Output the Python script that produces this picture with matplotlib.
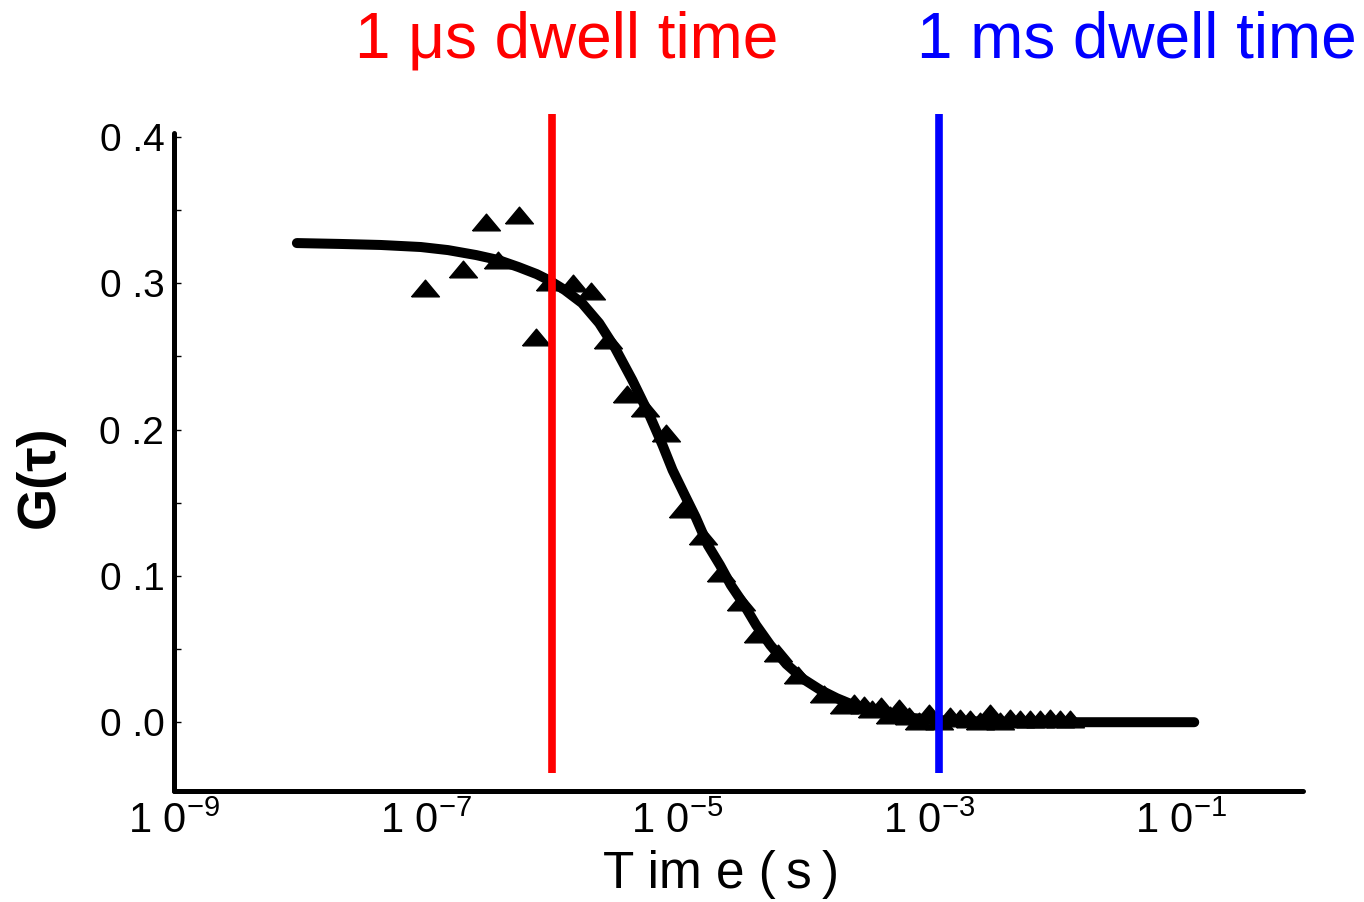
import numpy as np
import matplotlib
matplotlib.use('Agg')
import matplotlib.pyplot as plt
from matplotlib.ticker import FixedLocator, NullLocator

plt.rcParams['font.family'] = ['Liberation Sans', 'DejaVu Sans']
plt.rcParams['mathtext.fontset'] = 'custom'
plt.rcParams['mathtext.rm'] = 'Liberation Sans'
plt.rcParams['mathtext.it'] = 'Liberation Sans'

# measured correlation points (time in s, G(tau))
t_data = [9.8e-8, 1.98e-7, 3.02e-7, 3.77e-7, 5.45e-7, 7.45e-7, 9.64e-7,
          1.47e-6, 2.05e-6, 2.81e-6, 3.98e-6, 5.55e-6, 8.02e-6, 1.10e-5,
          1.58e-5, 2.21e-5, 3.19e-5, 4.37e-5, 6.31e-5, 9.12e-5, 1.45e-4,
          2.09e-4, 2.51e-4, 3.02e-4, 3.50e-4, 4.13e-4, 4.88e-4, 5.75e-4,
          6.92e-4, 8.32e-4, 1.0e-3, 1.20e-3, 1.45e-3, 1.74e-3, 2.09e-3,
          2.51e-3, 3.02e-3, 3.63e-3, 4.37e-3, 5.25e-3, 6.31e-3, 7.59e-3,
          9.12e-3, 1.10e-2, 1.32e-2]
g_data = [0.297, 0.310, 0.342, 0.316, 0.347, 0.263, 0.301,
          0.300, 0.295, 0.261, 0.224, 0.215, 0.198, 0.146,
          0.127, 0.102, 0.082, 0.060, 0.047, 0.032, 0.019,
          0.012, 0.013, 0.012, 0.009, 0.011, 0.005, 0.010,
          0.004, 0.001, 0.006, 0.001, 0.004, 0.003, 0.002,
          0.001, 0.006, 0.001, 0.003, 0.002, 0.002, 0.002,
          0.003, 0.002, 0.002]

# fitted curve
t_fit = [9.46e-9, 2.09e-8, 4.37e-8, 9.12e-8, 1.50e-7, 2.51e-7, 3.77e-7,
         5.45e-7, 7.59e-7, 9.46e-7, 1.27e-6, 1.74e-6, 2.38e-6, 3.19e-6,
         4.37e-6, 5.97e-6, 7.59e-6, 9.12e-6, 1.14e-5, 1.39e-5, 1.74e-5,
         2.17e-5, 2.65e-5, 3.31e-5, 4.21e-5, 5.45e-5, 7.31e-5, 1.0e-4,
         1.37e-4, 1.84e-4, 2.51e-4, 3.44e-4, 4.61e-4, 6.31e-4, 1.16e-3,
         2.13e-3, 3.98e-3, 0.127]
g_fit = [0.3275, 0.3269, 0.3262, 0.3248, 0.3227, 0.3193, 0.3159,
         0.3111, 0.3063, 0.3022, 0.2954, 0.2865, 0.2728, 0.2557,
         0.2338, 0.2099, 0.1894, 0.1723, 0.1552, 0.1402, 0.1210,
         0.1074, 0.0937, 0.0814, 0.0663, 0.0527, 0.0397, 0.0294,
         0.0219, 0.0164, 0.0116, 0.0082, 0.0055, 0.0034, 0.0014,
         0.0007, 0.0, 0.0]

dwell_times = [1e-6, 1.2e-3]
dwell_colors = ['red', 'blue']
dwell_labels = ['1 \u03bcs dwell time', '1 ms dwell time']

xticks = [1e-9, 1e-7, 1e-5, 1e-3, 1e-1]
xtick_labels = ['1 0$^{-9}$', '1 0$^{-7}$', '1 0$^{-5}$', '1 0$^{-3}$', '1 0$^{-1}$']
yticks = [0.0, 0.1, 0.2, 0.3, 0.4]
ytick_labels = ['0 .0', '0 .1', '0 .2', '0 .3', '0 .4']

fig = plt.figure(figsize=(13.64, 9.02), dpi=100)
ax = fig.add_axes([0.1276, 0.1231, 0.8277, 0.7294])

tri = [(-1, -0.6), (1, -0.6), (0, 0.6), (-1, -0.6)]
ax.plot(t_data, g_data, linestyle='none', marker=tri, markersize=20,
        color='black', zorder=2)
ax.plot(t_fit, g_fit, color='black', lw=7.2, solid_capstyle='round',
        solid_joinstyle='round', zorder=3)

for t, c in zip(dwell_times, dwell_colors):
    ax.plot([t, t], [-0.035, 0.4157], color=c, lw=5.5, clip_on=False,
            solid_capstyle='butt', zorder=5)

ax.set_xscale('log')
ax.set_xlim(1e-9, 10 ** -0.032)
ax.set_ylim(-0.047, 0.4027)

ax.xaxis.set_major_locator(FixedLocator(xticks))
ax.xaxis.set_minor_locator(NullLocator())
ax.set_xticklabels(xtick_labels, fontsize=30)
ax.set_yticks(yticks)
ax.set_yticklabels(ytick_labels, fontsize=28)
ax.yaxis.set_minor_locator(FixedLocator([0.05, 0.15, 0.25, 0.35]))

ax.tick_params(axis='x', which='both', length=0, pad=8)
ax.tick_params(axis='y', which='both', direction='in', length=5, width=1,
               pad=7)

for side in ['top', 'right']:
    ax.spines[side].set_visible(False)
for side in ['left', 'bottom']:
    ax.spines[side].set_linewidth(3.6)
    ax.spines[side].set_capstyle('round')

ax.set_xlabel('T im e (\u2009s\u2009)', fontsize=37)
ax.xaxis.set_label_coords(0.4845, -0.089)
ax.set_ylabel('G(\u03c4)', fontsize=39, fontweight='bold')
ax.yaxis.set_label_coords(-0.097, 0.477)

fig.text(0.260, 0.936, dwell_labels[0], color='red', fontsize=46,
         ha='left', va='baseline')
fig.text(0.672, 0.936, dwell_labels[1], color='blue', fontsize=46,
         ha='left', va='baseline')

plt.savefig('out.png', dpi=100)
